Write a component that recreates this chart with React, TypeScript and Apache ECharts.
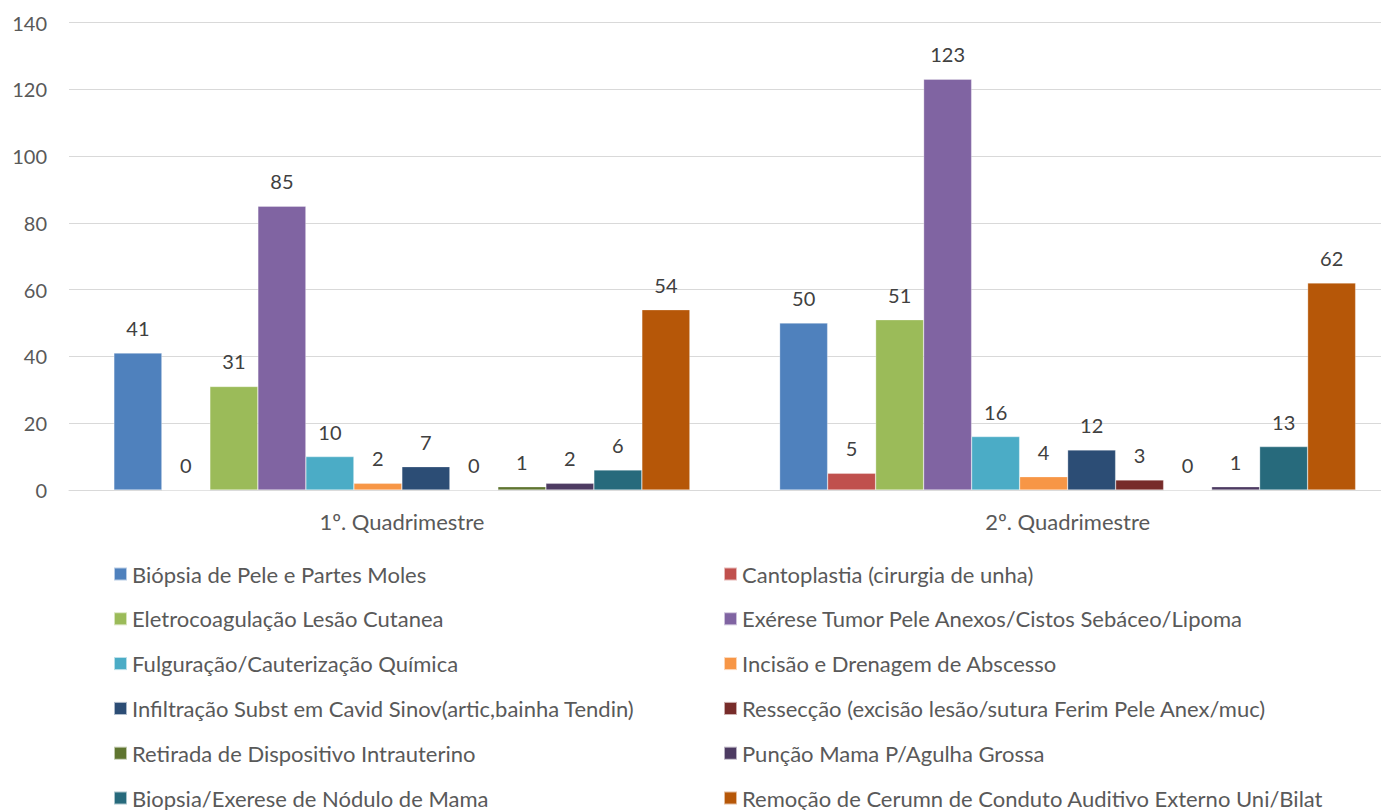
import React, { useEffect, useRef } from "react";
import * as echarts from "echarts";

const categories = ["1º. Quadrimestre", "2º. Quadrimestre"];

const seriesNames = [
  "Biópsia de Pele e Partes Moles",
  "Cantoplastia (cirurgia de unha)",
  "Eletrocoagulação Lesão Cutanea",
  "Exérese Tumor Pele Anexos/Cistos Sebáceo/Lipoma",
  "Fulguração/Cauterização Química",
  "Incisão e Drenagem de Abscesso",
  "Infiltração Subst em Cavid Sinov(artic,bainha Tendin)",
  "Ressecção (excisão lesão/sutura Ferim Pele Anex/muc)",
  "Retirada de Dispositivo Intrauterino",
  "Punção Mama P/Agulha Grossa",
  "Biopsia/Exerese de Nódulo de Mama",
  "Remoção de Cerumn de Conduto Auditivo Externo Uni/Bilat",
];

const q1Values = [41, 0, 31, 85, 10, 2, 7, 0, 1, 2, 6, 54];
const q2Values = [50, 5, 51, 123, 16, 4, 12, 3, 0, 1, 13, 62];

const colors = [
  "#4F81BD",
  "#C0504D",
  "#9BBB59",
  "#8064A2",
  "#4BACC6",
  "#F79646",
  "#2C4D75",
  "#772C2A",
  "#5F7530",
  "#4D3B62",
  "#276A7C",
  "#B65708",
];

const yTicks = { min: 0, max: 140, interval: 20 };

const FONT = "Lato, 'Open Sans', sans-serif";

export default function App() {
  const ref = useRef<HTMLDivElement>(null);

  useEffect(() => {
    if (!ref.current) return;
    const chart = echarts.init(ref.current, null, { renderer: "svg" });

    const series = seriesNames.map((name, i) => ({
      name,
      type: "bar",
      data: [q1Values[i], q2Values[i]],
      barWidth: 48,
      barGap: "0%",
      itemStyle: { color: colors[i], borderColor: "rgba(255,255,255,0.6)", borderWidth: 0.5 },
      label: {
        show: true,
        position: "top",
        distance: 15,
        color: "#404040",
        fontSize: 20,
        fontFamily: FONT,
      },
    }));

    const leftNames = seriesNames.filter((_, i) => i % 2 === 0);
    const rightNames = seriesNames.filter((_, i) => i % 2 === 1);

    const legendCommon = {
      orient: "vertical",
      top: 557,
      height: 260,
      itemWidth: 13,
      itemHeight: 13,
      itemGap: 20.8,
      icon: "rect",
      textStyle: { color: "#595959", fontSize: 22, fontFamily: FONT, lineHeight: 24 },
      selectedMode: false,
    };

    chart.setOption({
      animation: false,
      backgroundColor: "#ffffff",
      textStyle: { fontFamily: FONT },
      grid: { left: 69, top: 22.5, width: 1331.5, height: 467.5, containLabel: false },
      legend: [
        { ...legendCommon, left: 108, data: leftNames },
        { ...legendCommon, left: 718, data: rightNames },
      ],
      xAxis: {
        type: "category",
        data: categories,
        axisLine: { show: true, lineStyle: { color: "#D9D9D9", width: 1 } },
        axisTick: { show: false },
        axisLabel: { color: "#595959", fontSize: 22, fontFamily: FONT, margin: 20 },
      },
      yAxis: {
        type: "value",
        min: yTicks.min,
        max: yTicks.max,
        interval: yTicks.interval,
        axisLine: { show: false },
        axisTick: { show: false },
        axisLabel: { color: "#595959", fontSize: 20, fontFamily: FONT, margin: 22 },
        splitLine: { lineStyle: { color: "#D9D9D9", width: 1 } },
      },
      series,
    });

    return () => chart.dispose();
  }, []);

  return (
    <div style={{ position: "fixed", left: 0, top: 0, width: 1381, height: 810, overflow: "hidden", background: "#fff" }}>
      <div ref={ref} style={{ width: 1402, height: 810 }} />
    </div>
  );
}
